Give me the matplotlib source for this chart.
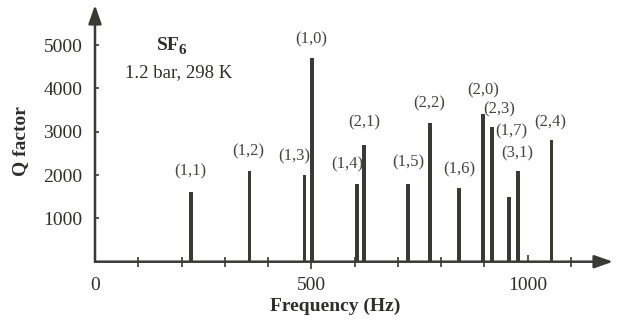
import matplotlib
matplotlib.use("Agg")
import matplotlib.pyplot as plt
import matplotlib.lines as mlines

# mode frequencies (Hz) and Q factors
modes = ["(1,1)", "(1,2)", "(1,3)", "(1,0)", "(1,4)", "(2,1)", "(1,5)",
         "(2,2)", "(1,6)", "(2,0)", "(2,3)", "(1,7)", "(3,1)", "(2,4)"]
freqs = [221, 357, 484, 502, 605, 622, 724, 774, 842, 897, 918, 957, 977, 1055]
q_factors = [1600, 2100, 2000, 4700, 1800, 2700, 1800, 3200, 1700, 3400,
             3100, 1500, 2100, 2800]

# label offsets from bar tops (pixels)
label_dx = [0, -1, -10, -1, -10, 0, 0, -1, 0, 0, 7, 2, -1, -1]
label_dy = [21, 19, 19, 19, 19, 22, 21, 20, 19, 24, 18, 65, 17, 18]

ink = "#3a3a34"
txt = "#2e2e2a"
plt.rcParams["font.family"] = ["Liberation Serif", "DejaVu Serif"]

fig = plt.figure(figsize=(6.26, 3.24), dpi=100)
ax = fig.add_axes([95 / 626, 1 - 261.7 / 324, 518 / 626, 256.7 / 324])
ax.set_xlim(0, 1197)
ax.set_ylim(0, 5928)

ax.bar(freqs, q_factors, width=9, color=ink, zorder=3)

for name, f, q, dx, dy in zip(modes, freqs, q_factors, label_dx, label_dy):
    ax.annotate(name, xy=(f, q), xytext=(dx, dy), textcoords="offset pixels",
                ha="center", va="center", fontsize=12, color="#444440")

for s in ax.spines.values():
    s.set_visible(False)

# axes drawn as arrows
arrow = dict(arrowstyle="-|>,head_length=0.8,head_width=0.28", color=ink,
             lw=1.8, mutation_scale=14, shrinkA=0, shrinkB=0)
ax.annotate("", xy=(1, 0), xytext=(0, 0), xycoords="axes fraction",
            arrowprops=arrow, annotation_clip=False)
ax.annotate("", xy=(0, 1), xytext=(0, 0), xycoords="axes fraction",
            arrowprops=arrow, annotation_clip=False)

ax.set_xticks([0, 500, 1000])
ax.set_xticklabels(["0", "500", "1000"])
ax.set_xticks([100, 200, 300, 400, 600, 700, 800, 900, 1100], minor=True)
ax.tick_params(axis="x", which="major", direction="out", length=5, width=1.2,
               color=ink, labelsize=14, pad=6, labelcolor=txt)
ax.tick_params(axis="x", which="minor", direction="inout", length=6.5,
               width=1.2, color=ink)
ax.xaxis.get_major_ticks()[0].tick1line.set_visible(False)
ax.xaxis.get_major_ticks()[2].tick1line.set_marker(mlines.TICKUP)

ax.set_yticks([1000, 2000, 3000, 4000, 5000])
ax.tick_params(axis="y", direction="in", length=3, width=1.2, color=ink,
               labelsize=14, pad=9, labelcolor=txt)

fig.text(21 / 626, 1 - 141 / 324, "Q factor", rotation=90, ha="center",
         va="center", fontsize=14, fontweight="bold", color=txt)
fig.text(335 / 626, 1 - 306 / 324, "Frequency (Hz)", ha="center",
         va="center", fontsize=14, fontweight="bold", color=txt)

# gas label: SF with a lowered 6
fig.text(156.5 / 626, 1 - 49.5 / 324, "SF", ha="left", va="baseline",
         fontsize=14, fontweight="bold", color=txt)
fig.text(178.5 / 626, 1 - 54 / 324, "6", ha="left", va="baseline",
         fontsize=11, fontweight="bold", color=txt)
fig.text(125 / 626, 1 - 77 / 324, "1.2 bar, 298 K", ha="left",
         va="baseline", fontsize=13.5, color=txt)

fig.savefig("out.png", dpi=100)
